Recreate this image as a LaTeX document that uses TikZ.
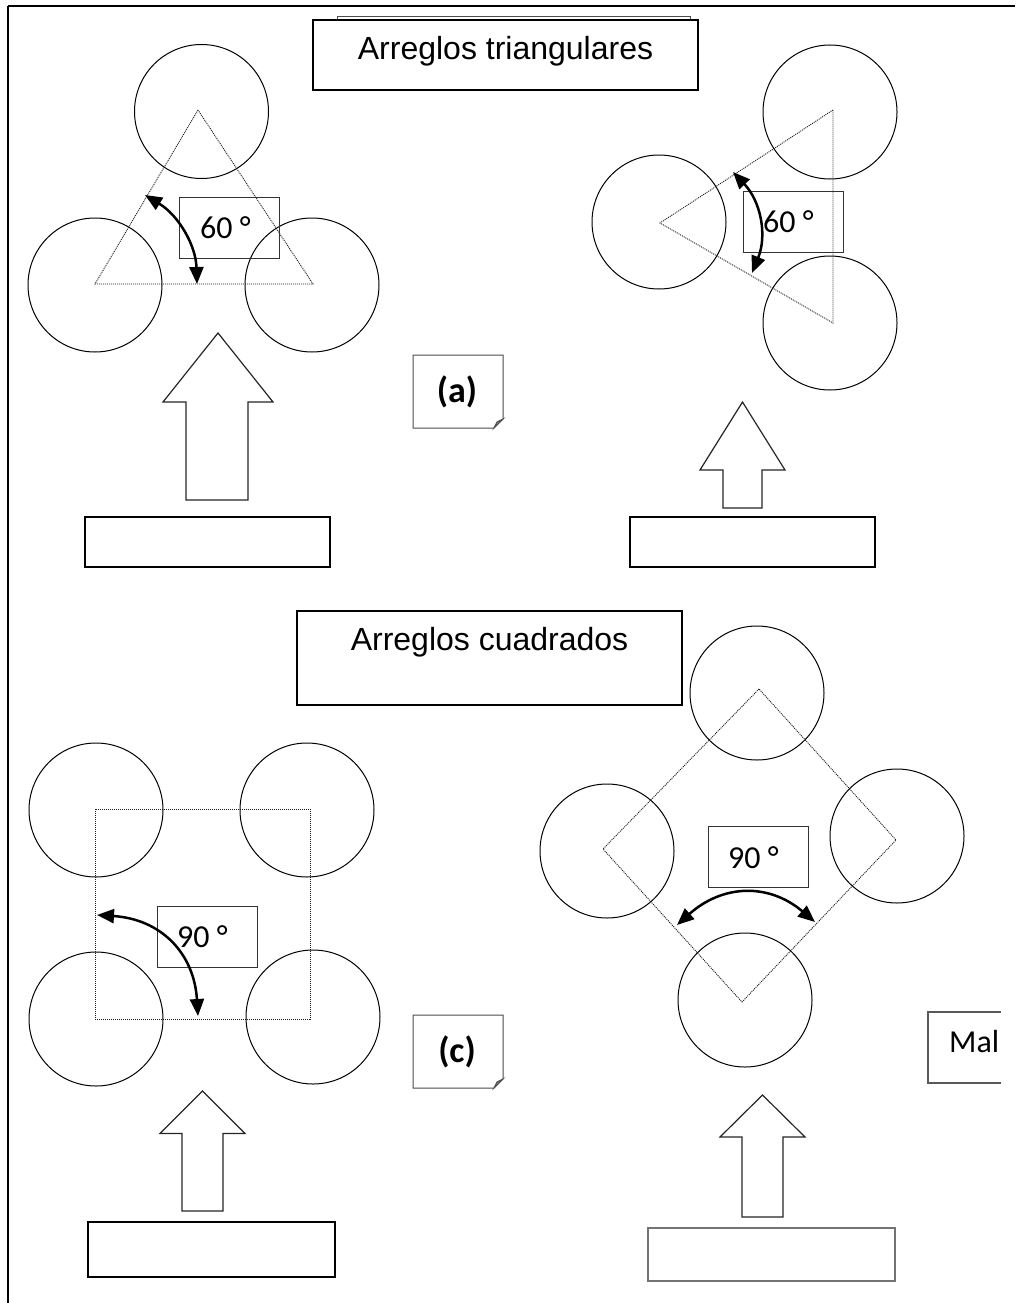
\documentclass[tikz,border=0pt]{standalone}
\usepackage{fontspec}
\setmainfont{Carlito}
\newfontfamily\arialfont{Liberation Sans}
\usetikzlibrary{arrows.meta}

\tikzset{
  frameline/.style={line width=2pt, black},
  disc/.style={circle, draw, line width=1pt, minimum size=134pt, inner sep=0pt},
  guide/.style={draw=black!90, line width=0.9pt, dash pattern=on 1pt off 1pt},
  titlebox/.style={draw, line width=1.4pt, fill=white, inner sep=0pt},
  titletext/.style={anchor=base, font=\arialfont\fontsize{32}{38}\selectfont},
  anglebox/.style={draw=black!80, line width=1pt, inner sep=0pt, minimum width=100pt, minimum height=61pt},
  angletext/.style={anchor=base west, inner sep=0pt, font=\fontsize{32}{38}\selectfont},
  bendarrow/.style={line width=2.5pt, {Triangle[length=17pt,width=14pt]}-{Triangle[length=17pt,width=14pt]}},
  blockarrow/.style={draw=black!85, line width=1.2pt, fill=white, line join=miter},
  answerbox/.style={draw, line width=1.8pt, inner sep=0pt},
  notefold/.style={draw=black!70, line width=1pt},
  labeltext/.style={inner sep=0pt, font=\bfseries\fontsize{36}{42}\selectfont},
}

\begin{document}
\begin{tikzpicture}[x=1pt,y=-1pt]
\useasboundingbox (0,0) rectangle (1015,1303);

% page frame (top and left edges)
\draw[frameline] (8,6) -- (1015,6);
\draw[frameline] (8,6) -- (8,1303);

% ---------- titles ----------
\draw[black!70, line width=1pt, fill=white] (337,17) rectangle (690,22);
\node[titlebox, minimum width=385pt, minimum height=70pt] (tri) at (505.5,55) {};
\node[titletext] (tritext) at (505.5,60) {Arreglos triangulares};

\node[titlebox, minimum width=385pt, minimum height=94pt] (sq) at (489.5,658) {};
\node[titletext] (sqtext) at (489.5,650) {Arreglos cuadrados};

% ---------- (a) triangular, upright ----------
\node[disc] (a1) at (201.5,111.5) {};
\node[disc] (a2) at (95,285) {};
\node[disc] (a3) at (312,285) {};
\draw[guide] (198,110) -- (95,284) -- (313,284) -- cycle;
\node[anglebox] (abox) at (229.5,227.5) {};
\node[angletext] (atext) at (200,238) {60 °};
\coordinate (as) at (145,195);
\coordinate (ae) at (197,284);
\draw[bendarrow] (as) .. controls (178.4,215.3) and (195.8,244.9) .. (ae);

% note (a)
\draw[notefold, fill=white] (413,355) -- (503,355) -- (503,419) -- (494,428) -- (413,428) -- cycle;
\draw[notefold, fill=black!45] (503,419) -- (494,428) -- (497,422) -- cycle;
\node[labeltext] (alabel) at (457,392) {(a)};

% block arrow and answer box
\draw[blockarrow] (218,333) -- (273,402) -- (248,402) -- (248,500) -- (186,500) -- (186,402) -- (163,402) -- cycle;
\node[answerbox, minimum width=245pt, minimum height=50pt] (ra) at (207.5,542) {};

% ---------- (b) triangular, rotated ----------
\node[disc] (b1) at (830,112) {};
\node[disc] (b2) at (659,222) {};
\node[disc] (b3) at (830,323) {};
\draw[guide] (833,110) -- (660,223) -- (833,323) -- cycle;
\node[anglebox] (bbox) at (793,222) {};
\node[angletext] (btext) at (763,232) {60 °};
\coordinate (bs) at (733,172);
\coordinate (be) at (752,273);
\draw[bendarrow] (bs) .. controls (760.9,201.6) and (767.3,235.2) .. (be);

\draw[blockarrow] (742.5,402) -- (785,470) -- (762,470) -- (762,508) -- (723,508) -- (723,470) -- (700,470) -- cycle;
\node[answerbox, minimum width=245pt, minimum height=50pt] (rb) at (752.5,542) {};

% ---------- (c) square ----------
\node[disc] (c1) at (96,810) {};
\node[disc] (c2) at (307,810) {};
\node[disc] (c3) at (96,1019) {};
\node[disc] (c4) at (313,1017) {};
\draw[guide] (95,809) rectangle (310,1019);
\node[anglebox] (cbox) at (207,936.5) {};
\node[angletext] (ctext) at (177,947) {90 °};
\coordinate (cs) at (97,915);
\coordinate (ce) at (198,1016);
\draw[bendarrow] (cs) .. controls (160.4,919) and (194,952.6) .. (ce);

% note (c)
\draw[notefold, fill=white] (413,1015) -- (503,1015) -- (503,1079) -- (494,1088) -- (413,1088) -- cycle;
\draw[notefold, fill=black!45] (503,1079) -- (494,1088) -- (497,1082) -- cycle;
\node[labeltext] (clabel) at (457,1052) {(c)};

\draw[blockarrow] (202.5,1091) -- (245,1133.5) -- (223,1133.5) -- (223,1211) -- (182,1211) -- (182,1133.5) -- (160,1133.5) -- cycle;
\node[answerbox, minimum width=247pt, minimum height=55pt] (rc) at (211.5,1249.5) {};

% ---------- (d) square, rotated ----------
\node[disc] (d1) at (757,693) {};
\node[disc] (d2) at (607,851) {};
\node[disc] (d3) at (897,836) {};
\node[disc] (d4) at (745,1000) {};
\draw[guide] (759,689) -- (603,849) -- (742,1002) -- (896,840) -- cycle;
\node[anglebox] (dbox) at (758,857) {};
\node[angletext] (dtext) at (728,868) {90 °};
\coordinate (ds) at (677,925);
\coordinate (de) at (815,922);
\draw[bendarrow] (ds) .. controls (723,884) and (769,883) .. (de);

% note "Mal", cut off at the right edge
\draw[draw=black!65, line width=1.4pt] (1001,1012) -- (928,1012) -- (928,1083) -- (1001,1083);
\node[angletext] (mal) at (949,1052) {Mal};

\draw[blockarrow] (762.5,1095) -- (805,1137) -- (783,1137) -- (783,1217) -- (742,1217) -- (742,1137) -- (720,1137) -- cycle;
\node[answerbox, draw=black!55, minimum width=247pt, minimum height=53pt] (rd) at (771.5,1254.5) {};

\end{tikzpicture}
\end{document}
